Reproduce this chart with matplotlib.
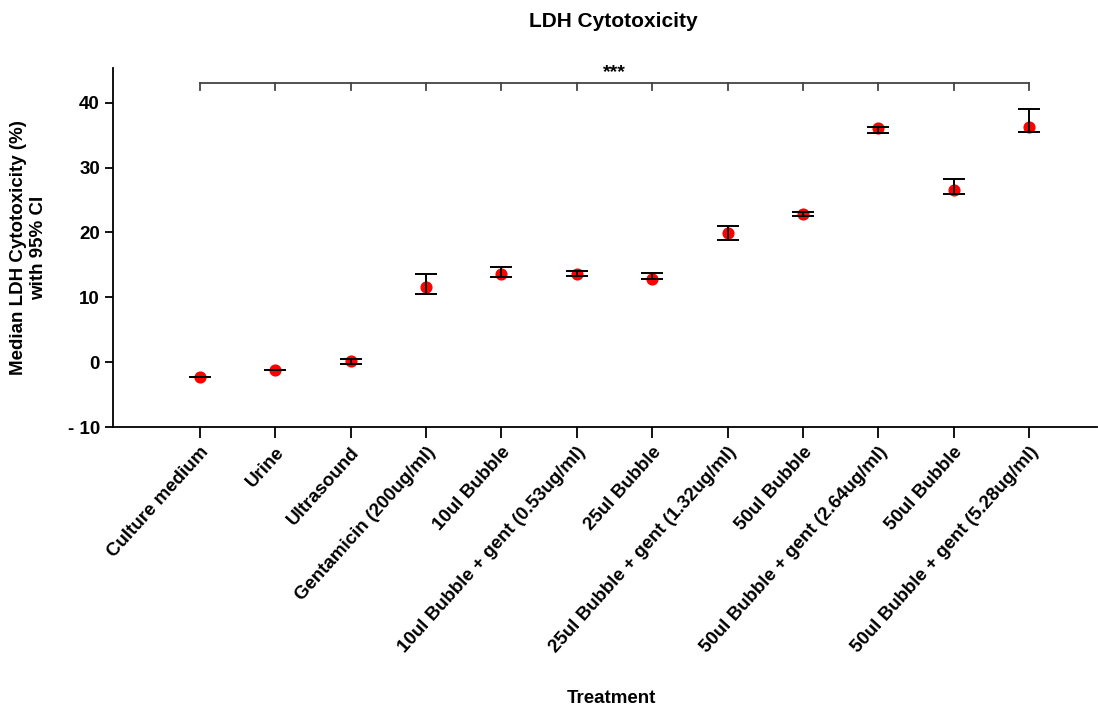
import numpy as np
import matplotlib
matplotlib.use("Agg")
import matplotlib.pyplot as plt

plt.rcParams['font.family'] = ['Liberation Sans', 'DejaVu Sans']
plt.rcParams['font.weight'] = 'bold'

treatments = ['Culture medium', 'Urine', 'Ultrasound', 'Gentamicin (200ug/ml)',
              '10ul Bubble', '10ul Bubble + gent (0.53ug/ml)', '25ul Bubble',
              '25ul Bubble + gent (1.32ug/ml)', '50ul Bubble',
              '50ul Bubble + gent (2.64ug/ml)', '50ul Bubble',
              '50ul Bubble + gent (5.28ug/ml)']
median = [-2.25, -1.2, 0.15, 11.6, 13.6, 13.6, 12.9, 19.9, 22.9, 36.1, 26.6, 36.3]
ci_low = [-2.25, -1.2, -0.3, 10.5, 13.1, 13.3, 12.9, 18.8, 22.6, 35.3, 26.0, 35.5]
ci_high = [-2.25, -1.2, 0.55, 13.6, 14.7, 14.0, 13.7, 21.0, 23.2, 36.2, 28.3, 39.0]
y_ticks = [-10, 0, 10, 20, 30, 40]

x = np.arange(len(treatments))
med = np.array(median)
lo = np.array(ci_low)
hi = np.array(ci_high)

fig = plt.figure(figsize=(10.98, 7.13), dpi=100)
ax = fig.add_axes([0.103, 0.401, 0.896, 0.504])

ax.scatter(x, med, s=60, color='#ff0000', zorder=2)
ax.errorbar(x, med, yerr=[med - lo, hi - med], fmt='none', ecolor='black',
            elinewidth=1.4, capsize=8, capthick=1.4, zorder=3)

# significance bracket
top = 43.0
ax.plot([x[0], x[-1]], [top, top], color='#444444', lw=1.3, clip_on=False)
for xi in x:
    ax.plot([xi, xi], [top, top - 1.0], color='#444444', lw=1.3, clip_on=False)
ax.text((x[0] + x[-1]) / 2, top + 0.3, '***', ha='center', va='bottom',
        fontsize=14, fontweight='bold')

ax.set_xlim(-1.15, 11.9)
ax.set_ylim(-10, 45.4)
ax.set_yticks(y_ticks)
ax.set_yticklabels([f'- {abs(v)}' if v < 0 else str(v) for v in y_ticks])
ax.set_xticks(x)
ax.set_xticklabels(treatments, rotation=48, ha='right', rotation_mode='anchor')

for s in ['top', 'right']:
    ax.spines[s].set_visible(False)
for s in ['left', 'bottom']:
    ax.spines[s].set_linewidth(1.3)
ax.tick_params(axis='y', length=6, width=1.3, labelsize=13.5)
ax.tick_params(axis='x', length=8, width=1.3, labelsize=13.5, pad=4)

ax.set_ylabel('Median LDH Cytotoxicity (%)\nwith 95% CI', fontsize=13.5,
              fontweight='bold', labelpad=15)
fig.text(0.557, 0.008, 'Treatment', ha='center', va='bottom', fontsize=13.5,
         fontweight='bold')
fig.text(0.559, 0.956, 'LDH Cytotoxicity', ha='center', va='bottom',
         fontsize=15, fontweight='bold')

fig.savefig('out.png', dpi=100)
